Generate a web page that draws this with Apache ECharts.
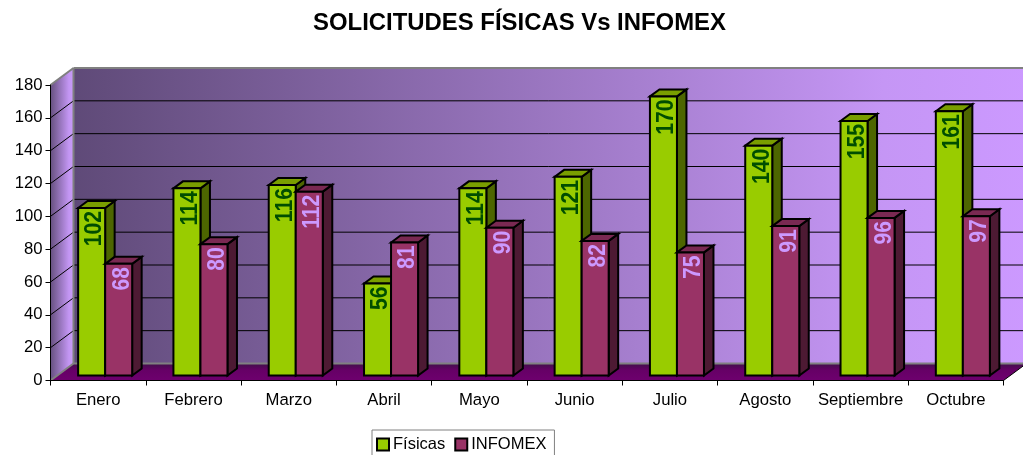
<!DOCTYPE html>
<html><head><meta charset="utf-8">
<style>html,body{margin:0;padding:0;background:#fff;overflow:hidden}#c{width:1023px;height:455px}</style>
<script src="https://cdn.jsdelivr.net/npm/echarts@6/dist/echarts.min.js"></script>
</head><body><div id="c"></div>
<script>
const titleText = 'SOLICITUDES FÍSICAS Vs INFOMEX';
const categories = ['Enero','Febrero','Marzo','Abril','Mayo','Junio','Julio','Agosto','Septiembre','Octubre'];
const fisicas = [102,114,116,56,114,121,170,140,155,161];
const infomex = [68,80,112,81,90,82,75,91,96,97];
const yTicks = [0,20,40,60,80,100,120,140,160,180];
const FONT = '"Liberation Sans", Arial, sans-serif';
const WALL_DX = 23, WALL_DY = -17, BAR_DX = 7, BAR_DY = -5, DEPTH_DX = 9.5, DEPTH_DY = -7;

function poly(points, fill, stroke, lw){
  return {type:'polygon', shape:{points}, style:{fill, stroke:stroke||'none', lineWidth:lw||0}};
}
function line(a,b,color,lw){
  return {type:'line', shape:{x1:a[0],y1:a[1],x2:b[0],y2:b[1]}, style:{stroke:color,lineWidth:lw,fill:'none'}};
}
function grad(x,y,x2,y2,stops){
  return {type:'linear',x,y,x2,y2,global:false,colorStops:stops};
}
function renderWall(params, api){
  const n = categories.length;
  const band = api.size([1,0])[0];
  const edge = (cat, v, off) => { const p = api.coord([cat, v]); return [p[0]+off*band/2, p[1]]; };
  const bl = edge(0,0,-1), tl = edge(0,180,-1), br = edge(n-1,0,1), tr = edge(n-1,180,1);
  const s = p => [p[0]+WALL_DX, p[1]+WALL_DY];
  const kids = [];
  kids.push(poly([s(tl),s(tr),s(br),s(bl)], grad(0,0,1,0,[{offset:0,color:'#5f4a78'},{offset:0.85,color:'#c596f5'},{offset:1,color:'#cc99ff'}])));
  kids.push(poly([tl,s(tl),s(bl),bl], grad(0,0,1,0,[{offset:0,color:'#66507f'},{offset:0.8,color:'#c396f3'},{offset:1,color:'#c99af8'}])));
  kids.push(poly([bl,s(bl),s(br),br], grad(0,0,0,1,[{offset:0,color:'#40104a'},{offset:0.4,color:'#660066'},{offset:1,color:'#6e006e'}])));
  yTicks.forEach(t => {
    if (t > 0 && t < 180){
      const a = edge(0,t,-1), b = edge(n-1,t,1);
      kids.push(line(a, s(a), '#000', 1));
      kids.push(line(s(a), s(b), '#000', 1));
    }
  });
  kids.push(line(s(tl), s(tr), '#808080', 2));
  kids.push(line(s(bl), s(br), '#808080', 2));
  kids.push(line(s(tl), s(bl), '#808080', 2));
  kids.push(line(tl, s(tl), '#808080', 2));
  kids.push(line(bl, s(bl), '#808080', 2));
  kids.push(line(br, s(br), '#000', 1));
  return {type:'group', children:kids};
}
function barRenderer(side, front, sideC, topC, labelC){
  return function(params, api){
    const cat = api.value(0), v = api.value(1);
    const band = api.size([1,0])[0], w = band*0.2835;
    const c = api.coord([cat, v]), z = api.coord([cat, 0]);
    const x0 = c[0] + BAR_DX + (side < 0 ? -w : 0), x1 = x0 + w;
    const yt = c[1] + BAR_DY, yb = z[1] + BAR_DY;
    const kids = [
      poly([[x1,yt],[x1+DEPTH_DX,yt+DEPTH_DY],[x1+DEPTH_DX,yb+DEPTH_DY],[x1,yb]], sideC, '#000', 2),
      poly([[x0,yt],[x0+DEPTH_DX,yt+DEPTH_DY],[x1+DEPTH_DX,yt+DEPTH_DY],[x1,yt]], topC, '#000', 2),
      poly([[x0,yt],[x1,yt],[x1,yb],[x0,yb]], front, '#000', 2),
      {type:'text', x:(x0+x1)/2+3.5, y:yt+3, rotation:Math.PI/2, scaleX:0.92,
       style:{text:String(v), fill:labelC, font:'bold 23px '+FONT, align:'right', verticalAlign:'middle'}}
    ];
    return {type:'group', children:kids};
  };
}
const chart = echarts.init(document.getElementById('c'), null, {renderer:'canvas'});
chart.setOption({
  animation:false,
  backgroundColor:'#fff',
  title:{text:titleText, left:514.5, top:6, textAlign:'center',
         textStyle:{fontFamily:FONT, fontWeight:'bold', fontSize:23.9, color:'#000'}},
  legend:{left:372, top:430, padding:[6,8,5,4], itemWidth:12, itemHeight:12, itemGap:9,
          borderColor:'#808080', borderWidth:1, backgroundColor:'#fff',
          textStyle:{fontFamily:FONT, fontSize:16.5, color:'#000', padding:[0,0,0,-1]},
          data:[{name:'Físicas',icon:'rect',itemStyle:{color:'#99cc00',borderColor:'#000',borderWidth:2}},
                {name:'INFOMEX',icon:'rect',itemStyle:{color:'#993366',borderColor:'#000',borderWidth:2}}]},
  grid:{left:50.5, right:19.5, top:85, bottom:74.5, containLabel:false},
  xAxis:{type:'category', data:categories, z:10,
         axisLine:{lineStyle:{color:'#000',width:1}},
         axisTick:{show:true, alignWithLabel:false, length:5, lineStyle:{color:'#000'}},
         axisLabel:{interval:0, fontFamily:FONT, fontSize:16.7, color:'#000', margin:11},
         splitLine:{show:false}},
  yAxis:{type:'value', min:0, max:180, interval:20, z:10,
         axisLine:{show:true, lineStyle:{color:'#000',width:1}},
         axisTick:{show:true, length:5, lineStyle:{color:'#000'}},
         axisLabel:{fontFamily:FONT, fontSize:16.7, color:'#000', margin:8, padding:[4,0,0,0]},
         splitLine:{show:false}},
  series:[
    {type:'custom', name:'wall', z:1, silent:true, clip:false,
     encode:{x:0,y:1}, data:[[0,0]], renderItem:renderWall},
    {type:'custom', name:'Físicas', z:3, clip:false, encode:{x:0,y:1},
     itemStyle:{color:'#99cc00'},
     data:fisicas.map((v,i)=>[i,v]),
     renderItem:barRenderer(-1,'#99cc00','#4d6600','#7a9e00','#004d00')},
    {type:'custom', name:'INFOMEX', z:4, clip:false, encode:{x:0,y:1},
     itemStyle:{color:'#993366'},
     data:infomex.map((v,i)=>[i,v]),
     renderItem:barRenderer(1,'#993366','#4d1a33','#7a2952','#cc99ff')}
  ]
});
</script></body></html>
